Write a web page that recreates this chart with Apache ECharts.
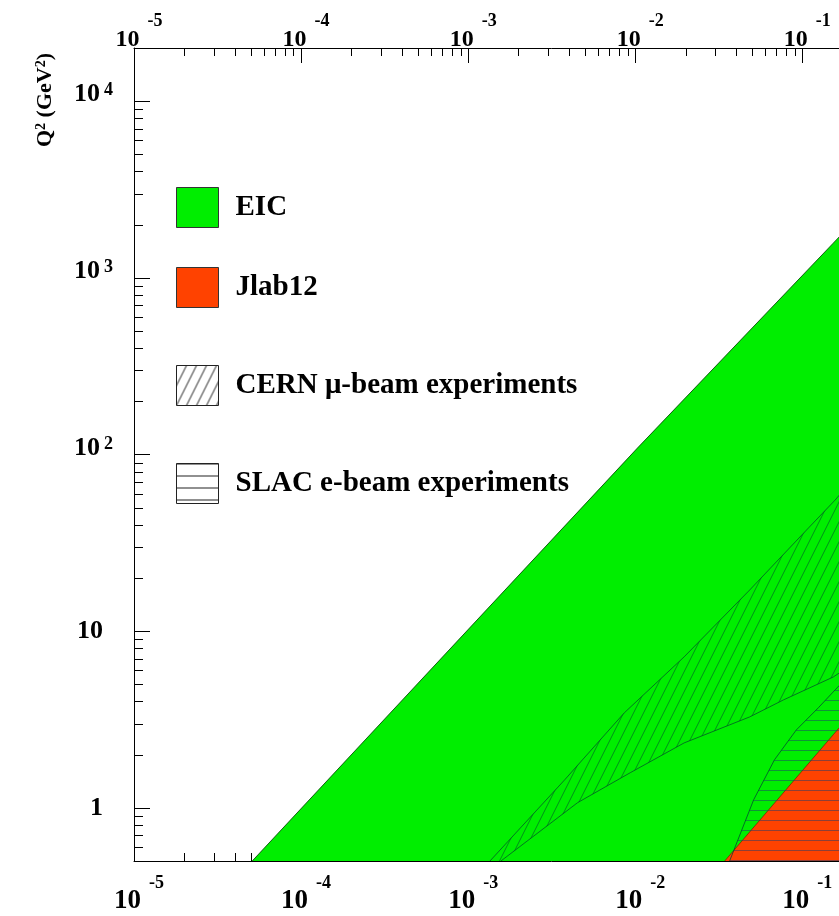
<!DOCTYPE html>
<html><head><meta charset="utf-8">
<script src="https://cdn.jsdelivr.net/npm/echarts@6/dist/echarts.min.js"></script>
<style>html,body{margin:0;padding:0;background:#fff;overflow:hidden}#c{width:1000px;height:916px}</style>
</head><body><div id="c"></div>
<script>
// ---- axis ranges and ticks ----
const xMin = 1e-5, xMax = 1;
const yMin = 0.5, yMax = 20000;
const xMinorTicks = [
  2e-5,3e-5,4e-5,5e-5,6e-5,7e-5,8e-5,9e-5,
  2e-4,3e-4,4e-4,5e-4,6e-4,7e-4,8e-4,9e-4,
  2e-3,3e-3,4e-3,5e-3,6e-3,7e-3,8e-3,9e-3,
  0.02,0.03,0.04,0.05,0.06,0.07,0.08,0.09,
  0.2,0.3,0.4,0.5,0.6,0.7,0.8,0.9];
const yMinorTicks = [
  0.6,0.7,0.8,0.9,
  2,3,4,5,6,7,8,9,
  20,30,40,50,60,70,80,90,
  200,300,400,500,600,700,800,900,
  2000,3000,4000,5000,6000,7000,8000,9000];

// ---- regions (x, Q^2 in GeV^2) ----
const eicX  = [5.1e-5, 0.0103, 0.153, 0.2, 0.2];
const eicQ2 = [0.5, 108.7, 1570, 2050, 0.5];

const cernUpperX  = [1.35e-3, 3.78e-3, 8.6e-3, 0.0196, 0.0484, 0.110, 0.157, 0.2];
const cernUpperQ2 = [0.5, 1.44, 3.45, 7.15, 17.1, 38.8, 55.2, 72];
const cernLowerX  = [1.57e-3, 4.52e-3, 9.33e-3, 0.0196, 0.0484, 0.077, 0.153, 0.2];
const cernLowerQ2 = [0.5, 1.07, 1.58, 2.33, 3.27, 4.08, 5.5, 6.5];

const jlabX  = [0.0343, 0.153, 0.2, 0.2];
const jlabQ2 = [0.5, 2.59, 3.47, 0.5];

const slacX  = [0.0367, 0.0511, 0.0681, 0.092, 0.1245, 0.157, 0.2, 0.2];
const slacQ2 = [0.5, 1.11, 1.87, 2.76, 3.68, 4.65, 5.9, 0.5];

const names = ['EIC', 'Jlab12', 'CERN \u03bc-beam experiments', 'SLAC e-beam experiments'];

// ---- patterns ----
function makePattern(w, h, color, bg, kind) {
  const cv = document.createElement('canvas');
  cv.width = w; cv.height = h;
  const ctx = cv.getContext('2d');
  if (bg) { ctx.fillStyle = bg; ctx.fillRect(0, 0, w, h); }
  ctx.strokeStyle = color; ctx.lineWidth = 1;
  ctx.beginPath();
  if (kind === 'diag') {
    for (const k of [-1, 0, 1]) { ctx.moveTo(k * w, h); ctx.lineTo(k * w + w, 0); }
  } else {
    ctx.moveTo(0, 0.5); ctx.lineTo(w, 0.5);
  }
  ctx.stroke();
  return { image: cv, repeat: 'repeat' };
}
const cernHatch = makePattern(10, 20, 'rgba(0,80,40,0.6)', null, 'diag');
const slacHatch = makePattern(10, 10, 'rgba(30,60,110,0.5)', null, 'horiz');
const cernLegend = makePattern(10, 20, '#222', '#fff', 'diag');
const slacLegend = makePattern(10, 12, '#222', '#fff', 'horiz');

const GREEN = '#00ee00', RED = '#ff4200';

function regionSeries(name, pts, edges, fill, stroke) {
  return {
    type: 'custom', name, coordinateSystem: 'cartesian2d', xAxisIndex: 0, yAxisIndex: 0,
    z: 2, clip: true, silent: true,
    itemStyle: { color: fill },
    data: pts,
    renderItem(params, api) {
      if (params.dataIndex !== 0) return null;
      const c = pts.map(p => api.coord(p));
      const children = [{ type: 'polygon', shape: { points: c }, style: { fill: fill, stroke: null } }];
      edges.forEach(([a, b]) => {
        children.push({ type: 'polyline', shape: { points: c.slice(a, b) },
          style: { fill: null, stroke: stroke, lineWidth: 1 } });
      });
      return { type: 'group', children };
    }
  };
}
const zip = (xs, ys) => xs.map((x, i) => [x, ys[i]]);
const cernPts = zip(cernUpperX, cernUpperQ2).concat(zip(cernLowerX, cernLowerQ2).reverse());
const nU = cernUpperX.length;

function tickSeries(data, kind) {
  return {
    type: 'custom', coordinateSystem: 'cartesian2d', z: 1, clip: false, silent: true,
    data,
    renderItem(params, api) {
      const p = api.coord([api.value(0), api.value(1)]);
      const x = Math.round(p[0]) + 0.5, y = Math.round(p[1]) + 0.5;
      let shape;
      if (kind === 'bottom') shape = { x1: x, y1: p[1], x2: x, y2: p[1] - 8 };
      else if (kind === 'top') shape = { x1: x, y1: p[1], x2: x, y2: p[1] + 8 };
      else shape = { x1: p[0], y1: y, x2: p[0] + 9, y2: y };
      return { type: 'line', shape, style: { stroke: '#000', lineWidth: 1 } };
    }
  };
}

const serif = 'Liberation Serif';
function xFmt(v) {
  const e = Math.round(Math.log10(v));
  if (Math.abs(v - Math.pow(10, e)) > 1e-6 * v) return '';
  return '{b|10}{s|' + e + '}{h| }';
}
function yFmt(v) {
  const e = Math.round(Math.log10(v));
  if (Math.abs(v - Math.pow(10, e)) > 1e-6 * v) return '';
  if (e === 0) return '{n|1}{p| }';
  if (e === 1) return '{n|10}{p| }';
  return '{b|10}{s|' + e + '}{h| }';
}
const axisCommon = {
  type: 'log', logBase: 10,
  axisLine: { show: true, onZero: false, lineStyle: { color: '#000', width: 1 } },
  splitLine: { show: false },
  minorTick: { show: false },
};
const legendText = { fontFamily: serif, fontWeight: 'bold', fontSize: 29, color: '#000', padding: [0, 0, 10, 12] };
function legendAt(name, top, itemStyle) {
  return { data: [{ name, itemStyle }], left: 176, top, padding: 0, itemWidth: 42, itemHeight: 40,
    icon: 'rect', selectedMode: false, textStyle: legendText };
}

const option = {
  animation: false,
  backgroundColor: '#fff',
  grid: { left: 134, top: 48, right: 26, bottom: 55, containLabel: false },
  xAxis: [
    Object.assign({}, axisCommon, {
      min: xMin, max: xMax, position: 'bottom',
      axisTick: { inside: true, length: 15, lineStyle: { color: '#000' } },
      axisLabel: { formatter: xFmt, margin: 13, color: '#000',
        rich: {
          b: { fontFamily: serif, fontWeight: 'bold', fontSize: 27, lineHeight: 27, verticalAlign: 'bottom', padding: [0, 0, 0, 10], color: '#000' },
          s: { fontFamily: serif, fontWeight: 'bold', fontSize: 18, lineHeight: 18, verticalAlign: 'top', padding: [0, 0, 0, 8], color: '#000' },
          h: { fontSize: 4, lineHeight: 41, width: 0 }
        } }
    }),
    Object.assign({}, axisCommon, {
      min: xMin, max: xMax, position: 'top',
      axisTick: { inside: true, length: 15, lineStyle: { color: '#000' } },
      axisLabel: { formatter: xFmt, margin: -4, color: '#000',
        rich: {
          b: { fontFamily: serif, fontWeight: 'bold', fontSize: 24, lineHeight: 24, verticalAlign: 'bottom', padding: [0, 0, 0, 10], color: '#000' },
          s: { fontFamily: serif, fontWeight: 'bold', fontSize: 18, lineHeight: 18, verticalAlign: 'top', padding: [0, 0, 0, 8], color: '#000' },
          h: { fontSize: 4, lineHeight: 40, width: 0 }
        } }
    })
  ],
  yAxis: [
    Object.assign({}, axisCommon, {
      min: yMin, max: yMax, position: 'left',
      axisTick: { inside: true, length: 16, lineStyle: { color: '#000' } },
      axisLabel: { formatter: yFmt, margin: 21, color: '#000',
        rich: {
          n: { fontFamily: serif, fontWeight: 'bold', fontSize: 26, lineHeight: 26, color: '#000' },
          p: { width: 10, fontSize: 10 },
          b: { fontFamily: serif, fontWeight: 'bold', fontSize: 26, lineHeight: 26, verticalAlign: 'top', color: '#000' },
          s: { fontFamily: serif, fontWeight: 'bold', fontSize: 18, lineHeight: 18, verticalAlign: 'top', padding: [0, 0, 0, 4], color: '#000' },
          h: { fontSize: 4, lineHeight: 39, width: 0 }
        } }
    })
  ],
  legend: [
    legendAt(names[0], 187, { color: GREEN, borderColor: '#333', borderWidth: 1 }),
    legendAt(names[1], 267, { color: RED, borderColor: '#333', borderWidth: 1 }),
    legendAt(names[2], 365, { color: cernLegend, borderColor: '#222', borderWidth: 1 }),
    legendAt(names[3], 463, { color: slacLegend, borderColor: '#222', borderWidth: 1 })
  ],
  graphic: [{
    type: 'text', x: 45, y: 100, rotation: Math.PI / 2,
    style: {
      text: 'Q{s|2} (GeV{s|2})', fill: '#000', fontFamily: serif, fontWeight: 'bold', fontSize: 22,
      align: 'center', verticalAlign: 'middle',
      rich: { s: { fontFamily: serif, fontWeight: 'bold', fontSize: 14, lineHeight: 14, verticalAlign: 'top', fill: '#000' } }
    }
  }],
  series: [
    tickSeries(xMinorTicks.map(v => [v, yMin]), 'bottom'),
    tickSeries(xMinorTicks.map(v => [v, yMax]), 'top'),
    tickSeries(yMinorTicks.map(v => [xMin, v]), 'left'),
    regionSeries(names[0], zip(eicX, eicQ2), [[0, 4]], GREEN, 'rgba(0,70,0,0.85)'),
    regionSeries(names[2], cernPts, [[0, nU], [nU, cernPts.length]], cernHatch, 'rgba(0,80,40,0.75)'),
    regionSeries(names[1], zip(jlabX, jlabQ2), [[0, 3]], RED, 'rgba(120,30,0,0.7)'),
    regionSeries(names[3], zip(slacX, slacQ2), [[0, 7]], slacHatch, 'rgba(0,70,50,0.75)')
  ]
};
const chart = echarts.init(document.getElementById('c'), null, { renderer: 'canvas' });
chart.setOption(option);
</script>
</body></html>
